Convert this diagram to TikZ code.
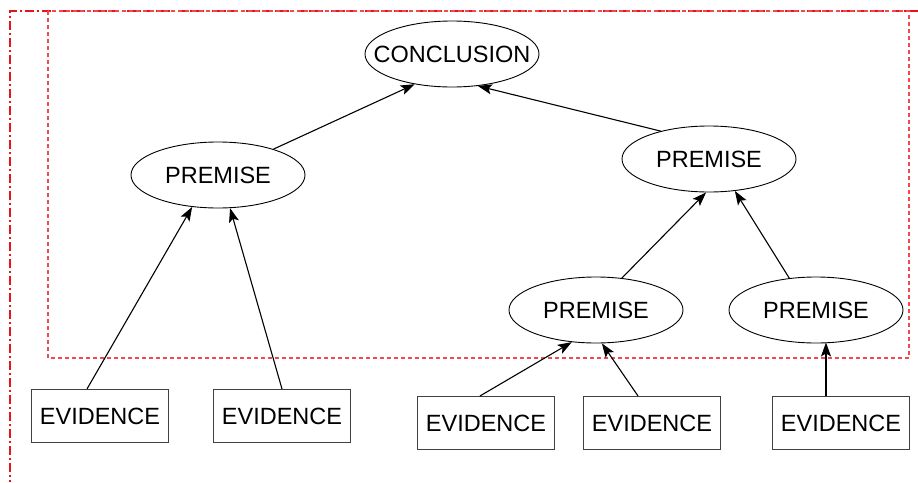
\documentclass[tikz,border=0pt]{standalone}
\usepackage{fontspec}
\setmainfont{Liberation Sans}
\usetikzlibrary{shapes.geometric,arrows.meta}
\definecolor{framered}{HTML}{E8141C}
\definecolor{boxred}{HTML}{F04A50}
\tikzset{
  claim/.style={ellipse, draw=black, line width=0.9pt, minimum width=174pt,
    minimum height=66pt, inner sep=0pt, font=\fontsize{23.5}{26}\selectfont},
  proof/.style={rectangle, draw=black!75, line width=1.1pt, minimum width=137pt,
    minimum height=53pt, inner sep=0pt, font=\fontsize{23.5}{26}\selectfont},
  support/.style={draw=black, line width=1.1pt, -{Stealth[length=14pt,width=10pt,inset=3pt]}},
  outerframe/.style={draw=framered, line width=1.1pt, dash pattern=on 9pt off 3pt on 2pt off 3pt},
  innerframe/.style={draw=boxred, line width=1.1pt, dash pattern=on 4pt off 3pt}
}
\begin{document}
\begin{tikzpicture}[x={(1pt,0)}, y={(0,-1pt)}]
  \useasboundingbox (0,0) rectangle (918,482);
  % frames
  \draw[outerframe] (918,11) -- (10,11) -- (10,482);
  \draw[innerframe] (48,11) rectangle (909,358);

  % argument nodes
  \node[claim, inner xsep=-18pt] (con) at (452,54) {CONCLUSION};
  \node[claim] (pl)  at (218,175) {PREMISE};
  \node[claim] (prt) at (709,159) {PREMISE};
  \node[claim] (pbm) at (596,310) {PREMISE};
  \node[claim] (pbr) at (816,310) {PREMISE};

  % evidence boxes
  \node[proof] (ev1) at (100,416) {EVIDENCE};
  \node[proof] (ev2) at (282,416) {EVIDENCE};
  \node[proof] (ev3) at (486,423) {EVIDENCE};
  \node[proof] (ev4) at (652,423) {EVIDENCE};
  \node[proof] (ev5) at (841,423) {EVIDENCE};

  % support links
  \draw[support] (pl.25) -- (con.219);
  \draw[support] (prt.150) -- (con.309);
  \draw[support] ([xshift=-13pt]ev1.north) -- (pl.231);
  \draw[support] (ev2.north) -- (pl.290);
  \draw[support] (pbm.51) -- (prt.265);
  \draw[support] (pbr.130) -- (prt.309);
  \draw[support] ([xshift=-6pt]ev3.north) -- (pbm.233);
  \draw[support] ([xshift=-14pt]ev4.north) -- (pbm.280);
  \draw[support] ([xshift=-15pt]ev5.north) -- ([xshift=-15pt,yshift=1pt]ev5.north |- pbr.south);
\end{tikzpicture}
\end{document}
